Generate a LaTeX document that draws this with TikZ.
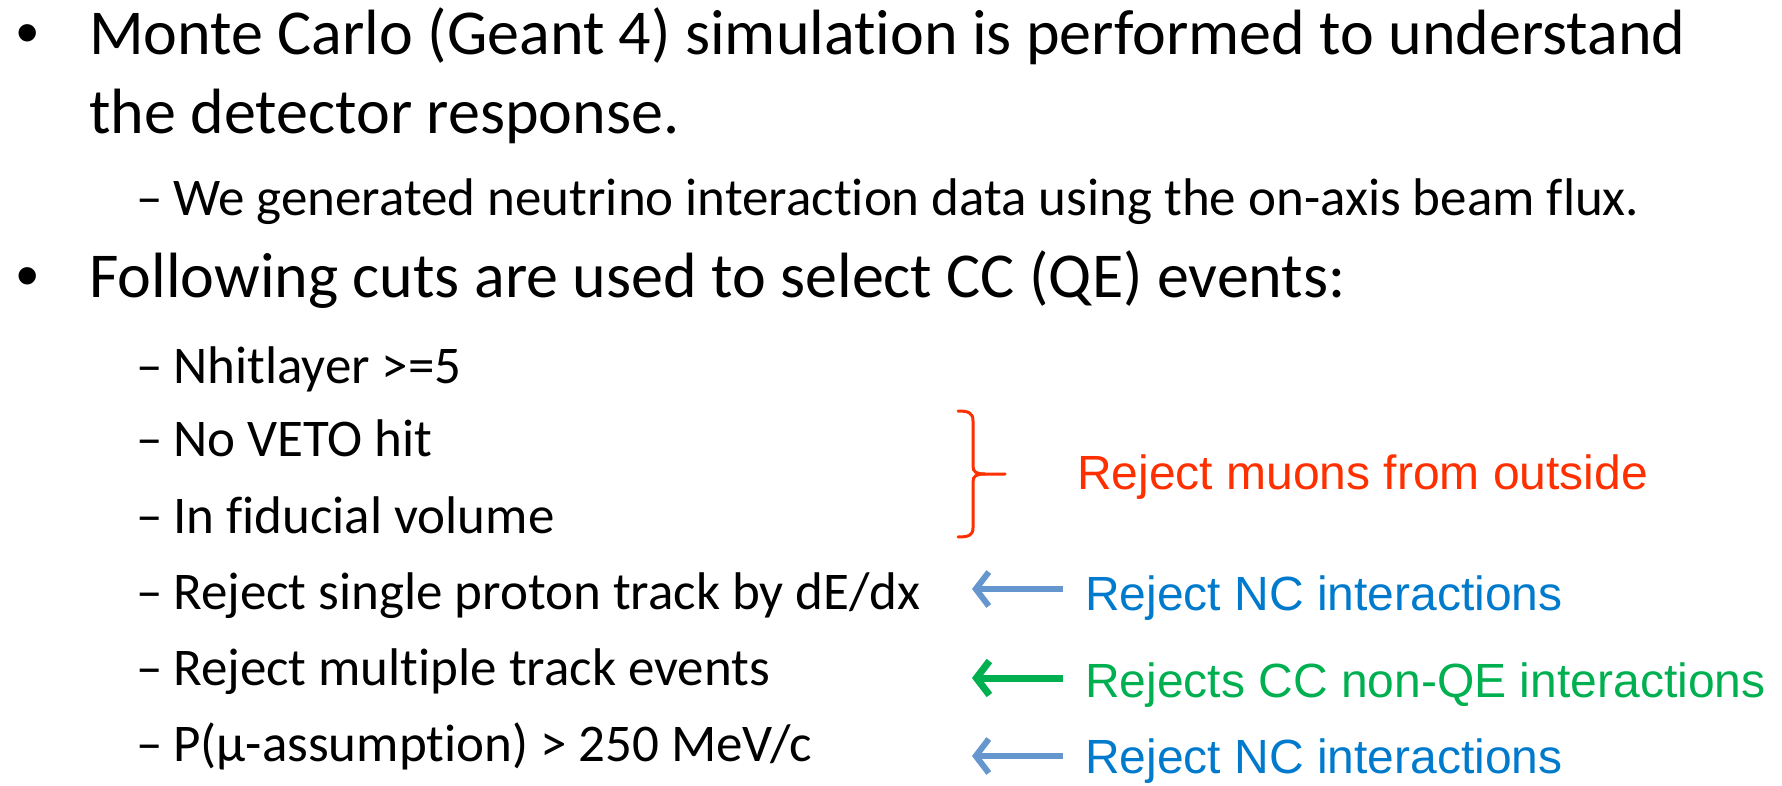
\documentclass[tikz,border=0pt]{standalone}
\usepackage{fontspec}
\setmainfont{Carlito}[Ligatures={TeX,CommonOff}]
\newfontfamily\notefont{Liberation Sans}
\usetikzlibrary{arrows.meta,positioning}

\definecolor{cutred}{RGB}{255,48,0}
\definecolor{ncblue}{RGB}{0,122,204}
\definecolor{ncarrow}{RGB}{102,150,206}
\definecolor{qegreen}{RGB}{0,176,80}

\begin{document}
\begin{tikzpicture}[
		x=1pt,
		y=-1pt,
		line cap=round,
		line join=round,
		bigtext/.style={anchor=base west, inner sep=0pt, font=\fontsize{64}{77}\selectfont},
		subtext/.style={anchor=base west, inner sep=0pt, font=\fontsize{53}{64}\selectfont},
		notetext/.style={anchor=base west, inner sep=0pt, font=\notefont\fontsize{48}{58}\selectfont},
		glyph/.style={anchor=base, inner sep=0pt},
		backarrow/.style={-{Straight Barb[length=13pt,width=34pt]}, line width=6pt, line cap=butt}
		]
		
		\useasboundingbox (0,0) rectangle (1782,786);
		
		%------------------------------------------------------------------
		% First bullet
		%------------------------------------------------------------------
		\node[glyph, font=\notefont\fontsize{64}{77}\selectfont] (dotA) at (28,55) {•};
		\node[bigtext] (mcA) at (89,55) {Monte Carlo (Geant 4) simulation is performed to understand};
		\node[bigtext] (mcB) at (89,134) {the detector response.};
		
		\node[subtext, glyph] (dashA) at (150,216) {–};
		\node[subtext] (gen) at (173,216) {We generated neutrino interaction data using the on-axis beam flux.};
		
		%------------------------------------------------------------------
		% Second bullet: list of cuts
		%------------------------------------------------------------------
		\node[glyph, font=\notefont\fontsize{64}{77}\selectfont] (dotB) at (28,298) {•};
		\node[bigtext] (cuts) at (89,298) {Following cuts are used to select CC (QE) events:};
		
		\node[subtext, glyph] (dashB) at (150,383) {–};
		\node[subtext] (nhit) at (173,383) {Nhitlayer >=5};
		\node[subtext, glyph] (dashC) at (150,456) {–};
		\node[subtext] (veto) at (173,456) {No VETO hit};
		\node[subtext, glyph] (dashD) at (150,533) {–};
		\node[subtext] (fid) at (173,533) {In fiducial volume};
		\node[subtext, glyph] (dashE) at (150,609) {–};
		\node[subtext] (dedx) at (173,609) {Reject single proton track by dE/dx};
		\node[subtext, glyph] (dashF) at (150,685) {–};
		\node[subtext] (multi) at (173,685) {Reject multiple track events};
		\node[subtext, glyph] (dashG) at (150,761) {–};
		\node[subtext] (pmu) at (173,761) {P(μ-assumption) > 250 MeV/c};
		
		%------------------------------------------------------------------
		% Brace and notes on the right
		%------------------------------------------------------------------
		\draw[cutred, line width=3pt]
		(958,411) .. controls (969,411) and (973,413) .. (973,421) -- (973,466)
		.. controls (973,472) and (976,474) .. (985,474) -- (1005,474);
		\draw[cutred, line width=3pt]
		(985,474) .. controls (976,474) and (973,476) .. (973,482) -- (973,528)
		.. controls (973,535) and (969,537) .. (958,537);
		
		\node[notetext, text=cutred] (muons) at (1077,489) {Reject muons from outside};
		\node[notetext, text=ncblue] (ncA) at (1085,610) {Reject NC interactions};
		\node[notetext, text=qegreen] (nonqe) at (1085,697) {Rejects CC non-QE interactions};
		\node[notetext, text=ncblue] (ncB) at (1085,773) {Reject NC interactions};
		
		% arrows pointing back at the cuts
		\draw[backarrow, ncarrow] ([xshift=-22pt, yshift=21pt]ncA.base west) -- ([xshift=-113pt, yshift=21pt]ncA.base west);
		\draw[backarrow, qegreen, line width=7pt] ([xshift=-22pt, yshift=19pt]nonqe.base west) -- ([xshift=-113pt, yshift=19pt]nonqe.base west);
		\draw[backarrow, ncarrow] ([xshift=-22pt, yshift=17pt]ncB.base west) -- ([xshift=-113pt, yshift=17pt]ncB.base west);
		
	\end{tikzpicture}
\end{document}
